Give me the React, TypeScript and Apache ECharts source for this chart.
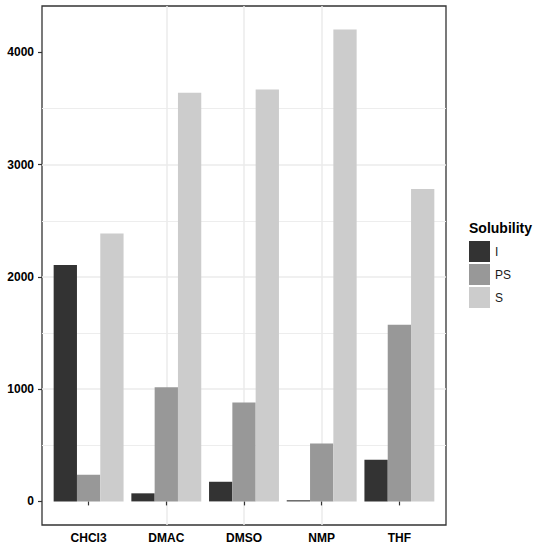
import React, { useEffect, useRef } from "react";
import * as echarts from "echarts";

const categories = ["CHCl3", "DMAC", "DMSO", "NMP", "THF"];
const seriesNames = ["I", "PS", "S"];
const valuesI = [2105, 72, 175, 10, 371];
const valuesPS = [237, 1017, 880, 515, 1573];
const valuesS = [2387, 3641, 3669, 4203, 2783];
const colors = ["#333333", "#989898", "#CCCCCC"];
const yTicks = [0, 1000, 2000, 3000, 4000];

const FONT = "'Liberation Sans', Arial, Helvetica, sans-serif";

export default function App() {
  const ref = useRef<HTMLDivElement>(null);
  useEffect(() => {
    if (!ref.current) return;
    const chart = echarts.init(ref.current, null, { renderer: "svg" });
    const all = [valuesI, valuesPS, valuesS];
    const maxV = Math.max(...all.flat());
    const yMin = -0.05 * maxV;
    const yMax = maxV * 1.05;
    const offsets = [-0.3, 0, 0.3];
    const series: any[] = all.map((vals, si) => ({
      name: seriesNames[si],
      type: "bar",
      xAxisIndex: 0,
      yAxisIndex: 0,
      barWidth: 23.3,
      barGap: "-100%",
      itemStyle: { color: colors[si] },
      data: vals.map((v, i) => [i + 1 + offsets[si], v]),
    }));
    chart.setOption({
      animation: false,
      backgroundColor: "#ffffff",
      title: {
        text: "Solubility",
        left: 469,
        top: 221,
        padding: 0,
        textStyle: { fontFamily: FONT, fontSize: 14, fontWeight: "bold", color: "#000" },
      },
      legend: {
        data: seriesNames,
        orient: "vertical",
        left: 469,
        top: 241,
        padding: 0,
        itemWidth: 21,
        itemHeight: 21,
        itemGap: 2,
        icon: "rect",
        selectedMode: false,
        textStyle: { fontFamily: FONT, fontSize: 12, color: "#1a1a1a" },
      },
      grid: {
        left: 42,
        right: 93,
        top: 6,
        bottom: 25,
        show: true,
        borderColor: "#333333",
        borderWidth: 1.3,
        backgroundColor: "#ffffff",
        containLabel: false,
      },
      xAxis: [
        {
          type: "value",
          min: 0.4,
          max: 5.6,
          axisLine: { show: false },
          axisTick: {
            show: true,
            length: 4,
            lineStyle: { color: "#333333", width: 1.2 },
            customValues: [1, 2, 3, 4, 5],
          },
          axisLabel: {
            showMinLabel: false,
            showMaxLabel: false,
            margin: 7,
            fontFamily: FONT,
            fontSize: 12,
            fontWeight: "bold",
            color: "#000",
            formatter: (v: number) =>
              Math.abs(v - Math.round(v)) < 1e-6 ? categories[Math.round(v) - 1] ?? "" : "",
          },
          splitLine: {
            show: true,
            showMinLine: false,
            showMaxLine: false,
            lineStyle: { color: "#EBEBEB", width: 1.5 },
          },
        },
      ],
      yAxis: [
        {
          type: "value",
          min: yMin,
          max: yMax,
          axisLine: { show: false },
          axisTick: {
            show: true,
            length: 4,
            lineStyle: { color: "#333333", width: 1.2 },
            customValues: yTicks,
          },
          axisLabel: {
            showMinLabel: false,
            showMaxLabel: false,
            margin: 8,
            fontFamily: FONT,
            fontSize: 12,
            fontWeight: "bold",
            color: "#000",
            formatter: (v: number) => (yTicks.includes(v) ? String(v) : ""),
          },
          splitLine: {
            show: true,
            showMinLine: false,
            showMaxLine: false,
            lineStyle: { color: "#EBEBEB", width: 1.5 },
          },
        },
        {
          type: "value",
          min: yMin + 500,
          max: yMax + 500,
          position: "left",
          axisLine: { show: false },
          axisTick: { show: false },
          axisLabel: { show: false },
          splitLine: {
            show: true,
            showMinLine: false,
            showMaxLine: false,
            lineStyle: { color: "#EDEDED", width: 1 },
          },
        },
      ],
      series,
    });
    return () => chart.dispose();
  }, []);
  return (
    <div
      ref={ref}
      style={{ position: "fixed", left: 0, top: 0, width: 539, height: 550 }}
    />
  );
}
